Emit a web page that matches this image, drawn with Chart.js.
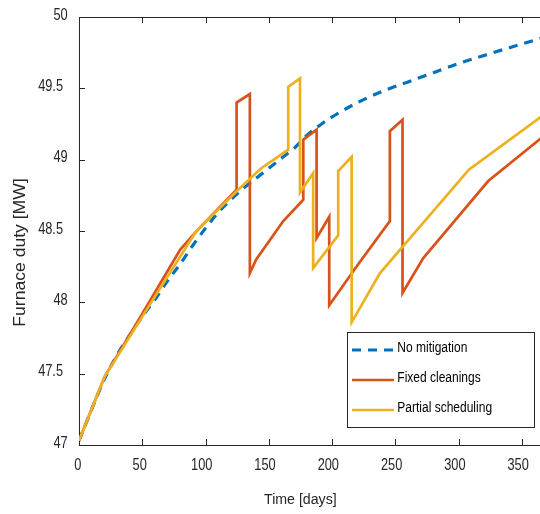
<!DOCTYPE html>
<html><head><meta charset="utf-8">
<script src="https://cdn.jsdelivr.net/npm/chart.js@4/dist/chart.umd.min.js"></script>
<style>
html,body{margin:0;padding:0;background:#fff;overflow:hidden;width:540px;height:514px}
#wrap{position:relative;width:542px;height:514px}
canvas{display:block}
</style>
</head><body><div id="wrap"><canvas id="c" width="542" height="514"></canvas></div>
<script>
// ---- data ----
const seriesNames = ['No mitigation', 'Fixed cleanings', 'Partial scheduling'];
const noMitDays = [0,10,20,30,40,50,60,70,80,90,100,110,120,130,140,150,160,170,180,190,200,220,240,260,280,300,320,340,365];
const noMitDuty = [47.03,47.25,47.46,47.63,47.77,47.90,48.02,48.15,48.27,48.40,48.52,48.63,48.72,48.80,48.87,48.94,49.01,49.08,49.17,49.24,49.30,49.40,49.48,49.545,49.61,49.675,49.73,49.785,49.85];
const fixedDays = [0,20.3,50,80,93,124.5,124.5,135,135,140,161.4,177.2,177.2,187.7,187.7,197.7,197.7,220,245.6,245.6,255.6,255.6,272,323.3,365];
const fixedDuty = [47.03,47.48,47.92,48.37,48.50,48.79,49.40,49.46,48.205,48.30,48.57,48.72,49.14,49.21,48.45,48.60,47.98,48.26,48.57,49.20,49.28,48.065,48.31,48.85,49.15];
const partialDays = [0,20.3,50,92.7,127,144,165.3,165.3,174.6,174.6,185,185,204.8,204.8,215.4,215.4,237.8,308,365];
const partialDuty = [47.03,47.48,47.90,48.50,48.80,48.94,49.07,49.51,49.57,48.77,48.905,48.24,48.47,48.92,49.02,47.86,48.205,48.93,49.30];
const xTicks = [0,50,100,150,200,250,300,350];
const yTicks = [47,47.5,48,48.5,49,49.5,50];
const xTitle = 'Time [days]';
const yTitle = 'Furnace duty [MW]';

const FONT = "'Liberation Sans',Arial,sans-serif";
const AXIS = '#262626';
const colors = ['#0072BD', '#D95319', '#EDB120'];

function pts(xs, ys){ return xs.map((x,i)=>({x:x, y:ys[i]})); }

const datasets = [
  {label: seriesNames[0], data: pts(noMitDays, noMitDuty), borderColor: colors[0], borderWidth: 3.2, borderDash:[9,7], cubicInterpolationMode:'monotone', order: 2},
  {label: seriesNames[1], data: pts(fixedDays, fixedDuty), borderColor: colors[1], borderWidth: 2.7, order: 1},
  {label: seriesNames[2], data: pts(partialDays, partialDuty), borderColor: colors[2], borderWidth: 2.7, order: 0}
];
datasets.forEach(d=>{ d.showLine = true; d.pointRadius = 0; d.fill = false; d.backgroundColor = d.borderColor; });

// draw text horizontally condensed (the reference uses a narrow face)
function narrowText(ctx, txt, x, y, size, sx, align){
  ctx.save();
  ctx.font = size + 'px ' + FONT;
  ctx.textBaseline = 'alphabetic';
  ctx.textAlign = 'left';
  const w = ctx.measureText(txt).width * sx;
  let left = x;
  if (align === 'center') left = x - w/2;
  else if (align === 'right') left = x - w;
  ctx.translate(left, y);
  ctx.scale(sx, 1);
  ctx.fillText(txt, 0, 0);
  ctx.restore();
  return w;
}

const framePlugin = {
  id: 'frame',
  beforeDatasetsDraw(chart){
    const {ctx, chartArea: a, scales} = chart;
    ctx.save();
    ctx.strokeStyle = AXIS; ctx.lineWidth = 1;
    ctx.beginPath();
    ctx.moveTo(a.left+0.5, a.top); ctx.lineTo(a.left+0.5, a.bottom+1);
    ctx.moveTo(a.left, a.bottom+0.5); ctx.lineTo(a.right, a.bottom+0.5);
    ctx.moveTo(a.left, a.top+0.5); ctx.lineTo(a.right, a.top+0.5);
    ctx.stroke();
    ctx.beginPath();
    yTicks.forEach(v=>{ const p = Math.round(scales.y.getPixelForValue(v))+0.5; ctx.moveTo(a.left, p); ctx.lineTo(a.left+6, p); });
    xTicks.forEach(v=>{ const p = Math.round(scales.x.getPixelForValue(v))+0.5;
      ctx.moveTo(p, a.bottom); ctx.lineTo(p, a.bottom-6);
      ctx.moveTo(p, a.top); ctx.lineTo(p, a.top+6); });
    ctx.stroke();
    ctx.fillStyle = AXIS;
    // tick labels
    const SX = 0.8;
    yTicks.forEach(v=>{
      const p = scales.y.getPixelForValue(v);
      const txt = String(v);
      ctx.font = '16px ' + FONT;
      const w = ctx.measureText(txt).width * SX;
      narrowText(ctx, txt, 74 - 0.44*w, p + 2.7, 16, SX, 'right');
    });
    xTicks.forEach(v=>{
      const p = scales.x.getPixelForValue(v);
      const txt = String(v);
      ctx.font = '16px ' + FONT;
      const w = ctx.measureText(txt).width * SX;
      narrowText(ctx, txt, p - 0.18*w, 470, 16, SX, 'center');
    });
    // axis titles
    ctx.font = '15.5px ' + FONT;
    const xw = ctx.measureText(xTitle).width;
    narrowText(ctx, xTitle, 264, 503.5, 15.5, 72.7/xw, 'left');
    ctx.save();
    ctx.font = '16.5px ' + FONT;
    const yw = ctx.measureText(yTitle).width;
    ctx.translate(25, 326.7);
    ctx.rotate(-Math.PI/2);
    ctx.scale(148.4/yw, 1);
    ctx.textAlign = 'left'; ctx.textBaseline = 'alphabetic';
    ctx.fillText(yTitle, 0, 0);
    ctx.restore();
    ctx.restore();
  },
  afterDraw(chart){
    const {ctx} = chart;
    ctx.save();
    ctx.fillStyle = '#fff';
    ctx.fillRect(347.5, 332.5, 187, 95);
    ctx.strokeStyle = AXIS; ctx.lineWidth = 1;
    ctx.strokeRect(347.5, 332.5, 187, 95);
    const rows = [350, 380, 410];
    datasets.forEach((d,i)=>{
      ctx.beginPath();
      ctx.strokeStyle = d.borderColor; ctx.lineWidth = d.borderWidth;
      ctx.setLineDash(d.borderDash || []);
      ctx.moveTo(352, rows[i]); ctx.lineTo(394, rows[i]);
      ctx.stroke();
      ctx.setLineDash([]);
      ctx.fillStyle = '#000';
      narrowText(ctx, d.label, 397.3, rows[i] + 1.5, 15.4, 0.78, 'left');
    });
    ctx.restore();
  }
};

new Chart(document.getElementById('c'), {
  type: 'scatter',
  data: {datasets},
  options: {
    responsive: false,
    animation: false,
    events: [],
    layout: {padding: {top: 17, right: 1, left: 0, bottom: 0}},
    plugins: {legend: {display: false}, tooltip: {enabled: false}},
    scales: {
      x: {
        type: 'linear', min: 0, max: 365,
        afterBuildTicks: s => { s.ticks = xTicks.map(v=>({value:v})); },
        afterFit: s => { s.height = 69; },
        grid: {display: false, drawTicks: false},
        border: {display: false},
        ticks: {display: false}
      },
      y: {
        type: 'linear', min: 47, max: 50,
        afterBuildTicks: s => { s.ticks = yTicks.map(v=>({value:v})); },
        afterFit: s => { s.width = 79; },
        grid: {display: false, drawTicks: false},
        border: {display: false},
        ticks: {display: false}
      }
    }
  },
  plugins: [framePlugin]
});
</script>
</body></html>
